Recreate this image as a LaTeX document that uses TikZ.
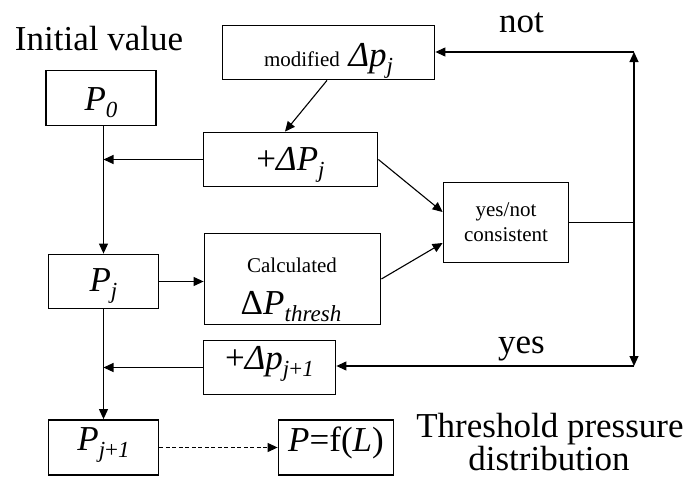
\documentclass[tikz,border=0pt]{standalone}
\usepackage{fontspec}
\setmainfont{Liberation Serif}
\usetikzlibrary{arrows.meta}
\newcommand\mysub[1]{\raisebox{-7pt}{\fontsize{23}{23}\selectfont\itshape #1}}
\newcommand\smalltxt{\fontsize{21}{25}\selectfont}
\newcommand\bigtxt{\fontsize{35}{40}\selectfont}
\begin{document}
\begin{tikzpicture}[x=1pt,y=-1pt,
  box/.style={draw, line width=1.8pt, inner sep=0pt, text depth=0pt, font=\bigtxt},
  lbl/.style={inner sep=0pt, font=\bigtxt, anchor=base},
  conn/.style={line width=1.1pt},
  arr/.style={conn, -{Triangle[length=10pt,width=9pt]}}]
\useasboundingbox (0,0) rectangle (686,479);
% boxes
\node[box, minimum width=110pt, minimum height=55pt, text height=24pt] (P0) at (101,98) {\textit{P}\mysub{0}};
\node[box, minimum width=212pt, minimum height=54pt, text height=28pt] (mod) at (328.5,52.5) {{\smalltxt modified} \textit{Δp}\mysub{j}};
\node[box, minimum width=174pt, minimum height=54pt, text height=22pt] (dPj) at (290.5,159.5) {+\textit{ΔP}\mysub{j}};
\node[box, minimum width=176pt, minimum height=91pt] (calc) at (292.5,279) {};
\node[inner sep=0pt, anchor=base, font=\smalltxt] (calc1) at (292,272) {Calculated};
\node[inner sep=0pt, anchor=base, font=\bigtxt] (calc2) at (291,314) {Δ\textit{P}\mysub{thresh}};
\node[box, minimum width=125pt, minimum height=80pt, align=center, font=\smalltxt, text depth=] (cons) at (506,222.5) {yes/not\\consistent};
\node[box, minimum width=110pt, minimum height=54pt, text height=19pt] (Pj) at (103.5,281.5) {\textit{P}\mysub{j}};
\node[box, minimum width=132pt, minimum height=54pt, text height=3pt] (dPj1) at (269.5,367.5) {+\textit{Δp}\mysub{j{\upshape +}1}};
\node[box, minimum width=110pt, minimum height=55pt, text height=5pt] (Pj1) at (103.5,447.5) {\textit{P}\mysub{j{\upshape +}1}};
\node[box, minimum width=115pt, minimum height=55pt, text height=8pt] (PfL) at (336,447.5) {\textit{P}=f(\textit{L})};
% labels
\node[lbl] (init) at (99,50) {Initial value};
\node[lbl] (notl) at (521.5,32) {not};
\node[lbl] (yesl) at (521.5,353) {yes};
\node[lbl] (thr1) at (550,437) {Threshold pressure};
\node[lbl] (thr2) at (549,470) {distribution};
% connectors
\draw[arr] (Pj.north |- P0.south) -- (Pj.north);
\draw[arr] (dPj.west) -- (dPj.west -| Pj.north);
\draw[arr] (Pj.south) -- (Pj1.north);
\draw[arr] (dPj1.west) -- (dPj1.west -| Pj.south);
\draw[arr] (Pj.east) -- (Pj.east -| calc.west);
\draw[arr, dash pattern=on 4pt off 2.5pt] (Pj1.east) -- (PfL.west);
\draw[arr] ([xshift=-1.5pt]mod.south) -- ([xshift=-5.5pt]dPj.north);
\draw[arr] (dPj.east) -- ([yshift=10.5pt]cons.west);
\draw[arr] (calc.east) -- ([yshift=-20.5pt]cons.west);
\coordinate (rt) at (634,52);
\coordinate (rb) at (634,366);
\coordinate (rm) at (cons.east -| rt);
\draw[conn] (cons.east) -- (rm);
\draw[arr] (rm) -- (rt);
\draw[arr] (rm) -- (rb);
\draw[arr] (rt) -- (rt -| mod.east);
\draw[arr] (rb) -- (rb -| dPj1.east);
\end{tikzpicture}
\end{document}
